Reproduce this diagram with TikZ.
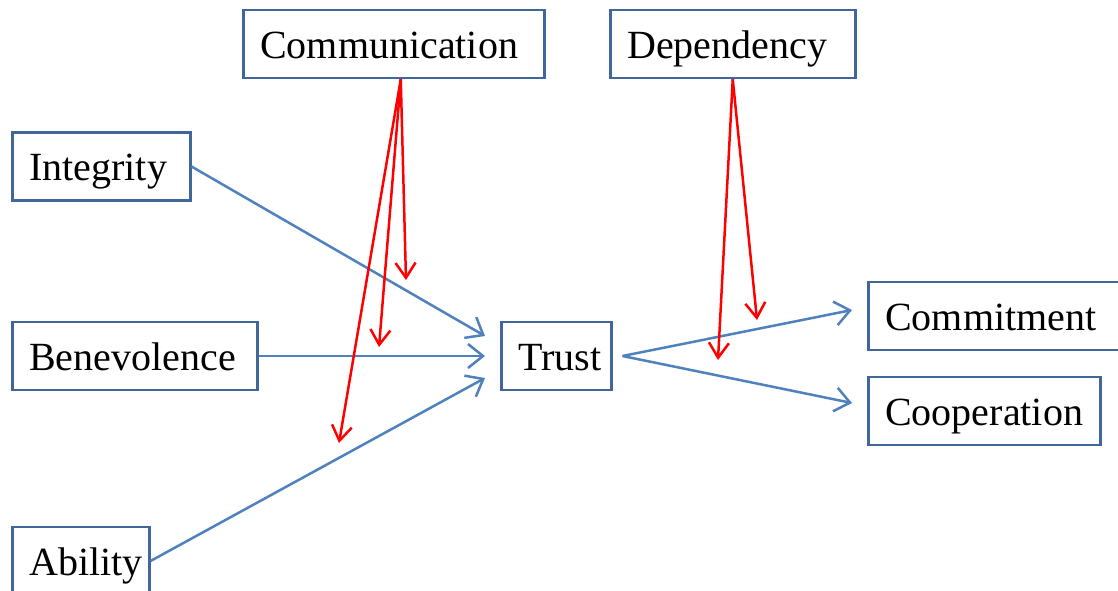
\documentclass[tikz,border=0pt]{standalone}
\usepackage{fontspec}
\setmainfont{Liberation Serif}
\usepackage{xcolor}
\usepackage{tikz}
\usetikzlibrary{arrows.meta}
\definecolor{boxblue}{HTML}{41679A}
\definecolor{linkblue}{HTML}{4F81BD}
\tikzset{every picture/.style={x=1pt,y=-1pt},
  factor/.style={rectangle, draw=boxblue, line width=2.5pt, anchor=west, inner xsep=17pt, minimum height=68pt,
    text height=28pt, text depth=0pt, align=left, font=\fontsize{40}{48}\selectfont},
  link/.style={draw=linkblue, line width=2.5pt, -{Straight Barb[length=15pt,width=24pt]}},
  moder/.style={draw=red, line width=2.5pt, -{Straight Barb[length=15pt,width=20pt]}}}

\begin{document}
\begin{tikzpicture}
        \useasboundingbox (0,0) rectangle (1118,590);

        \node[factor, text width=267pt] (comm) at (242, 44) {Communication};
        \node[factor, text width=211pt] (dep) at (609, 44) {Dependency};
        \node[factor, text width=144pt] (integ) at (11, 166.5) {Integrity};
        \node[factor, text width=211pt] (benev) at (11, 356) {Benevolence};
        \node[factor, text width=103pt] (abil) at (11, 561) {Ability};
        \node[factor, text width=76pt] (trust) at (500, 356) {Trust};
        \node[factor, text width=226pt] (commit) at (867, 316) {Commitment};
        \node[factor, text width=198pt] (coop) at (867, 411) {Cooperation};

        % arrow ends
        \coordinate (tin1) at ([shift={(-15,-20)}]trust.west);
        \coordinate (tin2) at ([xshift=-15pt]trust.west);
        \coordinate (tin3) at ([shift={(-15,22)}]trust.west);
        \coordinate (tout) at ([xshift=10pt]trust.east);
        \coordinate (cin) at ([shift={(-15,-6)}]commit.west);
        \coordinate (pin) at ([shift={(-15,-8)}]coop.west);
        \coordinate (cout) at ([xshift=7pt]comm.south);
        \coordinate (c1) at (406, 280);
        \coordinate (c2) at (379, 347);
        \coordinate (c3) at (339, 443);
        \coordinate (d1) at (757, 320);
        \coordinate (d2) at (718, 360);

        \foreach \from/\to in {
          integ.east/tin1, benev.east/tin2, abil.east/tin3,
          tout/cin, tout/pin}
        \draw[link] (\from) -- (\to);

        \foreach \from/\to in {
          cout/c1, cout/c2, cout/c3,
          dep.south/d1, dep.south/d2}
        \draw[moder] (\from) -- (\to);
      \end{tikzpicture}
\end{document}
